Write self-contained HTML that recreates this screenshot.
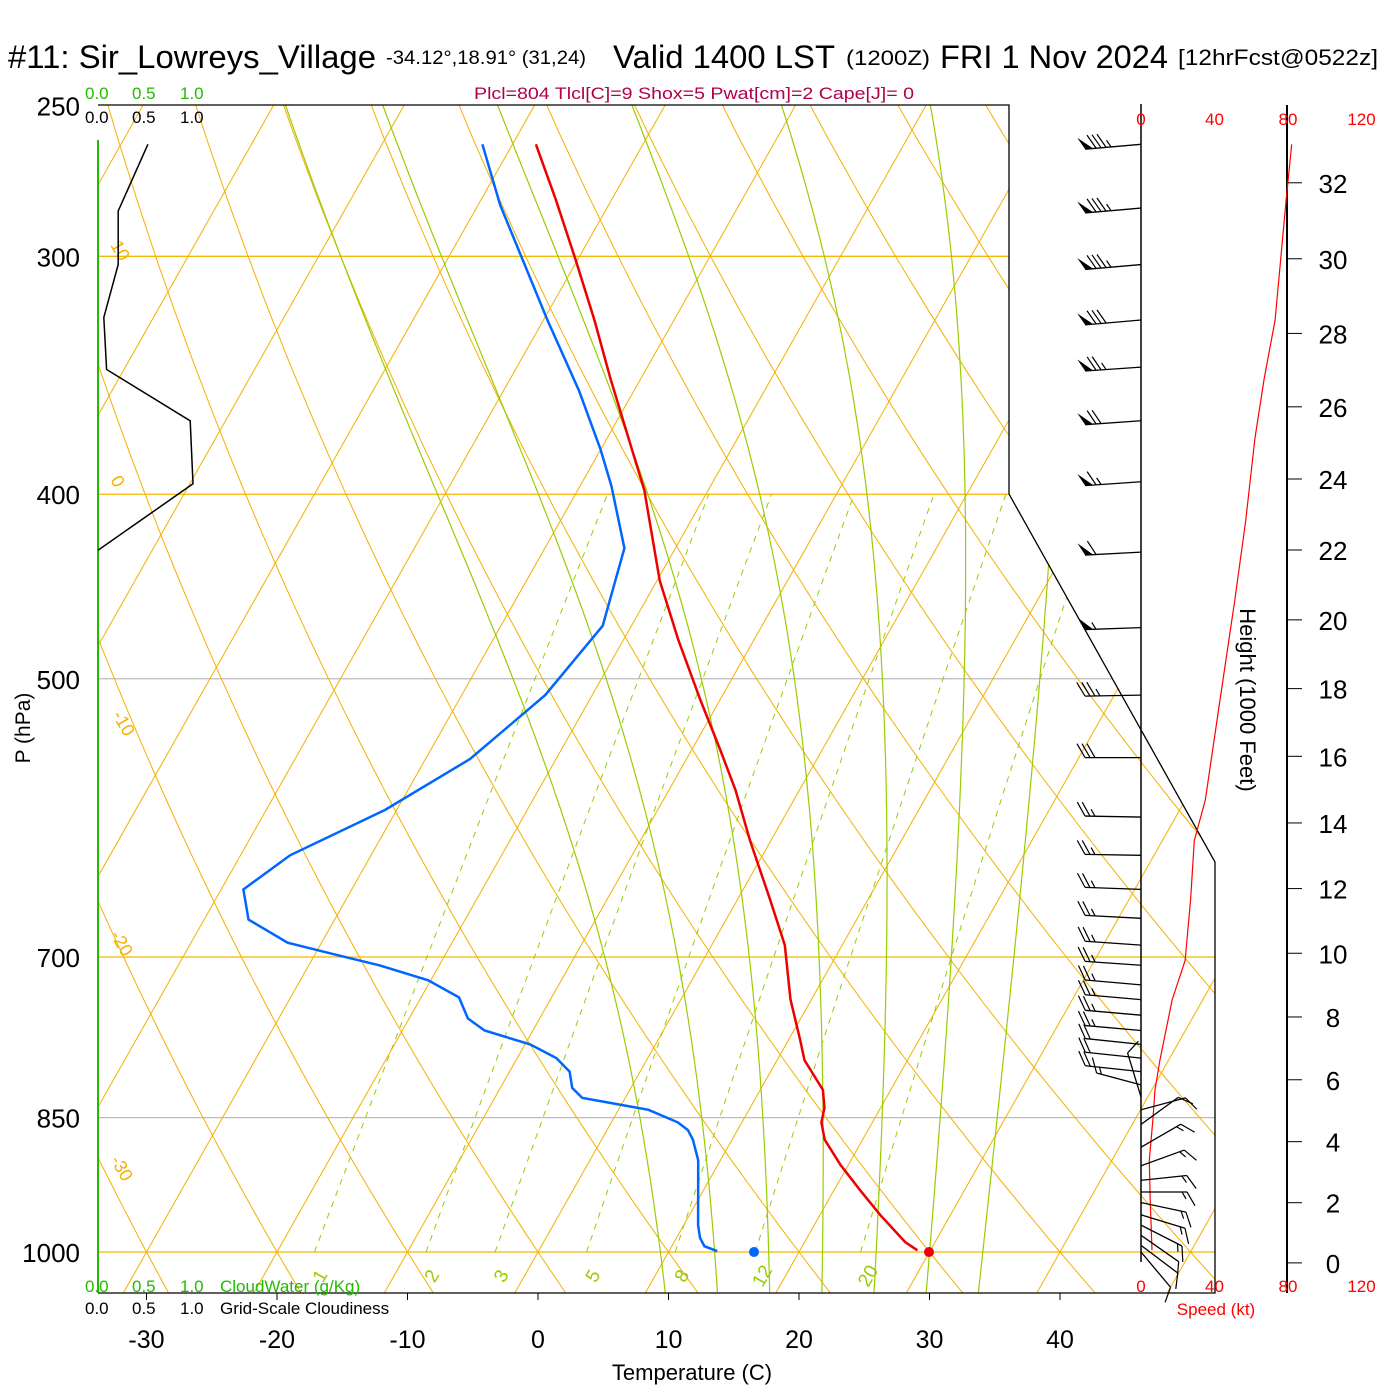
<!DOCTYPE html>
<html><head><meta charset="utf-8"><style>
html,body{margin:0;padding:0;background:#fff;}
svg{display:block;font-family:"Liberation Sans",sans-serif;}
</style></head><body>
<svg id="chart" width="1400" height="1400" viewBox="0 0 1400 1400" xmlns="http://www.w3.org/2000/svg">
<defs><clipPath id="plotClip"><polygon points="98,105 1009,105 1009,494 1215,862 1215,1293 98,1293"/></clipPath></defs>
<g id="title">
<text x="8" y="68" font-size="32" textLength="368" lengthAdjust="spacingAndGlyphs">#11: Sir_Lowreys_Village</text>
<text x="386" y="64" font-size="19" textLength="200" lengthAdjust="spacingAndGlyphs">-34.12°,18.91° (31,24)</text>
<text x="613" y="68" font-size="32" textLength="222" lengthAdjust="spacingAndGlyphs">Valid 1400 LST</text>
<text x="846" y="65" font-size="21" textLength="84" lengthAdjust="spacingAndGlyphs">(1200Z)</text>
<text x="940" y="68" font-size="32" textLength="228" lengthAdjust="spacingAndGlyphs">FRI 1 Nov 2024</text>
<text x="1178" y="65" font-size="22" textLength="200" lengthAdjust="spacingAndGlyphs">[12hrFcst@0522z]</text>
</g>
<text x="694" y="99" font-size="17" fill="#b0004a" text-anchor="middle" textLength="440" lengthAdjust="spacingAndGlyphs">Plcl=804 Tlcl[C]=9 Shox=5 Pwat[cm]=2 Cape[J]= 0</text>
<g id="bg" clip-path="url(#plotClip)"></g>
<g id="fg"></g>
</svg>
<script>
// ---- data ----
const tempP=[998,988,956,928,900,873,855,840,822,793,774,737,690,653,608,572,545,513,477,444,398,348,324,301,280,262];
const tempT=[29.0,27.7,24.6,22.0,19.4,17.1,16.1,15.7,14.8,12.1,10.9,8.4,5.6,2.5,-1.6,-4.9,-7.8,-11.5,-15.8,-19.8,-24.9,-32.3,-36.1,-40.2,-44.3,-48.2];
const dewP=[999,993,983,968,895,873,863,855,842,830,820,804,791,778,765,754,735,720,707,698,688,669,645,619,586,551,510,469,427,396,379,353,324,282,262];
const dewT=[13.7,12.5,11.8,11.1,8.3,7.0,6.2,5.1,2.3,-3.3,-4.5,-5.4,-7.0,-9.6,-13.7,-15.5,-17.1,-20.2,-24.6,-28.4,-32.6,-36.6,-38.3,-36.2,-30.9,-26.6,-23.6,-22.2,-23.9,-27.6,-30.0,-34.2,-39.7,-48.3,-52.3];
const cloudP=[262,284,303,323,344,366,395,428];
const cloudFrac=[0.52,0.21,0.21,0.06,0.09,0.96,0.99,0.0];
const speedP=[998,939,895,852,822,793,737,703,653,608,579,513,455,413,374,348,324,294,280,262];
const speedKt=[6,5,4.5,6.5,7.6,10.3,17,24,27,29,35,43,51,57,62,67,73,77,79,82];
const barbP=[262,283,303,324,343,366,394,429,470,510,550,591,619,645,668,690,707,724,737,751,765,778,791,804,817,829,842,857,881,901,917,930,942,956,968,980,992,1000];
const barbAng=[175,175,175,175,176,176,176,177,178,179,180,181,181,182,183,184,184,185,185,185,185,186,186,186,195,253,345,324,330,340,354,0,12,17,27,35,37,50];
const barbKt=[85,85,85,80,75,70,65,60,55,35,30,25,25,25,25,25,25,25,25,25,25,20,20,20,15,10,10,10,15,15,15,15,15,15,15,10,10,10];
const tempTicks=[-30,-20,-10,0,10,20,30,40];
const pTicks=[250,300,400,500,700,850,1000];
const heightTicks=[0,2,4,6,8,10,12,14,16,18,20,22,24,26,28,30,32];
const speedTicks=[0,40,80,120];
const mixRatios=[1,2,3,5,8,12,20];
const moistStarts=[11.5,15.5,19.5,23.5,27.5,31.5,35.5];
// ---- axes ----
const NS='http://www.w3.org/2000/svg';
function yP(p){return 1252-827*Math.log(1000/p);}
function xT(T,p){return 538+13.05*T+0.566*(1252-yP(p));}
function xSpd(s){return 1141+s*73.5/40;}
function pH(kft){const m=kft*304.8;return 1013.25*Math.pow(1-6.5*m/288150,5.256);}
function el(tag,attrs,parent){const e=document.createElementNS(NS,tag);for(const k in attrs)e.setAttribute(k,attrs[k]);parent.appendChild(e);return e;}
const bg=document.getElementById('bg'),fg=document.getElementById('fg');
function pathD(pts){return pts.map((q,i)=>(i?'L':'M')+q[0].toFixed(1)+','+q[1].toFixed(1)).join('');}
const isoCol={250:'#000',300:'#f5b800',400:'#f5b800',500:'#bbb',700:'#f5b800',850:'#bbb',1000:'#f5b800'};
pTicks.forEach(p=>{if(p===250)return;const y=yP(p);
 const l=el('line',{x1:98,x2:1215,y1:y,y2:y,stroke:isoCol[p],'stroke-width':1.3},bg);
 
 });
for(let T=-110;T<=50;T+=10){const l=el('line',{x1:xT(T,1060),y1:yP(1060),x2:xT(T,245),y2:yP(245),stroke:'#f5b000','stroke-width':1},bg);
 
 }
for(let th=-60;th<=200;th+=10){const pts=[];for(let p=1060;p>=240;p-=20){const T=(th+273.15)*Math.pow(p/1000,0.286)-273.15;pts.push([xT(T,p),yP(p)]);}
 const l=el('path',{d:pathD(pts),fill:'none',stroke:'#f5b000','stroke-width':1},bg);
 
 }
function es(T){return 6.112*Math.exp(17.67*T/(T+243.5));}
moistStarts.forEach(T0=>{let T=T0,pts=[];for(let p=1050;p>=245;p-=5){pts.push([xT(T,p),yP(p)]);const Tk=T+273.15,e=es(T),rs=0.622*e/(p-e);
 const d=(287*Tk+2.5e6*rs)/(p*(1004+2.5e6*2.5e6*rs*0.622/(287*Tk*Tk)));T-=d*5;}
 const l=el('path',{d:pathD(pts),fill:'none',stroke:'#99cc00','stroke-width':1.2},bg);
 
 });
function tdW(w,p){const e=w*p/(622+w),L=Math.log(e/6.112);return 243.5*L/(17.67-L);}
mixRatios.forEach(w=>{const pts=[];for(let p=1000;p>=400;p-=20)pts.push([xT(tdW(w,p),p),yP(p)]);
 const l=el('path',{d:pathD(pts),fill:'none',stroke:'#99cc00','stroke-width':1,'stroke-dasharray':'6,6'},bg);
 
 
 const x=xT(tdW(w,1030),1030)+15,t=el('text',{x:x,y:1282,'font-size':19,fill:'#99cc00',transform:`rotate(-60 ${x} 1276)`,'text-anchor':'middle'},bg);t.textContent=w;
 
 });
[[110,245,'10'],[110,480,'0'],[112,715,'-10'],[110,935,'-20'],[110,1160,'-30']].forEach(a=>{const t=el('text',{x:a[0],y:a[1],'font-size':18,fill:'#f5b000',transform:`rotate(60 ${a[0]} ${a[1]})`},bg);t.textContent=a[2];
 
 });
[[1025,348,'0'],[1050,545,'10'],[1118,670,'20'],[1185,790,'30']].forEach(a=>{const t=el('text',{x:a[0],y:a[1],'font-size':24,fill:'#f5b000',transform:`rotate(-60 ${a[0]} ${a[1]})`},bg);t.textContent=a[2];
 
 });
const fr=el('polyline',{points:'98,105 1009,105 1009,494 1215,862 1215,1293 98,1293',fill:'none',stroke:'#000','stroke-width':1.3},fg);


const gl=el('line',{x1:98,y1:140,x2:98,y2:1293,stroke:'#22bb00','stroke-width':2},fg);


tempTicks.forEach(T=>{const x=538+13.05*T;el('line',{x1:x,x2:x,y1:1293,y2:1300,stroke:'#000'},fg);
 const t=el('text',{x:x,y:1348,'font-size':25,'text-anchor':'middle'},fg);t.textContent=T;
 
 });
pTicks.forEach(p=>{const t=el('text',{x:80,y:yP(p)+10,'font-size':26,'text-anchor':'end'},fg);t.textContent=p;
 
 });
function txt(x,y,s,str,name,extra){const t=el('text',Object.assign({x:x,y:y,'font-size':s},extra||{}),fg);t.textContent=str;
 
 return t;}
txt(692,1380,22,'Temperature (C)','x-axis-title',{'text-anchor':'middle'});
txt(30,728,21,'P (hPa)','y-axis-title',{'text-anchor':'middle',transform:'rotate(-90 30 728)'});
txt(1240,700,22,'Height (1000 Feet)','height-axis-title',{'text-anchor':'middle',transform:'rotate(90 1240 700)'});
txt(1216,1315,17,'Speed (kt)','speed-axis-title',{'text-anchor':'middle',fill:'#f00'});
[[85,'0.0'],[132,'0.5'],[180,'1.0']].forEach(a=>{
 txt(a[0],99,17,a[1],'cloud-water-scale-top',{fill:'#22bb00'});
 txt(a[0],123,17,a[1],'cloudiness-scale-top',{});
 txt(a[0],1292,17,a[1],'cloud-water-scale-bottom',{fill:'#22bb00'});
 txt(a[0],1314,17,a[1],'cloudiness-scale-bottom',{});});
txt(220,1292,17,'CloudWater (g/Kg)','cloud-water-legend',{fill:'#22bb00'});
txt(220,1314,17,'Grid-Scale Cloudiness','cloudiness-legend',{});
const wl=el('line',{x1:1141,y1:104,x2:1141,y2:1262,stroke:'#000','stroke-width':1.5},fg);


const hl=el('line',{x1:1287,y1:105,x2:1287,y2:1293,stroke:'#000','stroke-width':2},fg);


heightTicks.forEach(h=>{const y=yP(pH(h));el('line',{x1:1287,x2:1302,y1:y,y2:y,stroke:'#000'},fg);
 txt(1333,y+10,26,h,'height-tick-label',{'text-anchor':'middle'});});
speedTicks.forEach(s=>{const x=xSpd(s);txt(x,125,17,s,'speed-tick-top',{'text-anchor':'middle',fill:'#f00'});
 txt(x,1292,17,s,'speed-tick-bottom',{'text-anchor':'middle',fill:'#f00'});});
const sp=el('path',{d:pathD(speedP.map((p,i)=>[xSpd(speedKt[i]),yP(p)])),fill:'none',stroke:'#f00','stroke-width':1.2},fg);


barbP.forEach((p,i)=>{const y=yP(p),a=barbAng[i]*Math.PI/180,L=(barbKt[i]<=15?46:56),x0=1141,ux=Math.cos(a),uy=Math.sin(a);
 const g=el('g',{},fg);
 
 
 const tx=x0+L*ux,ty=y+L*uy;el('line',{x1:x0,y1:y,x2:tx,y2:ty,stroke:'#000','stroke-width':1.3},g);
 const fa=a+Math.PI/3,fx=Math.cos(fa),fy=Math.sin(fa);let s=barbKt[i],pos=L;
 while(s>=50){const bx=x0+pos*ux,by=y+pos*uy,cx=x0+(pos-8)*ux,cy=y+(pos-8)*uy;
  el('polygon',{points:`${bx},${by} ${bx+14*fx},${by+14*fy} ${cx},${cy}`,fill:'#000'},g);pos-=11;s-=50;}
 while(s>=10){const bx=x0+pos*ux,by=y+pos*uy;el('line',{x1:bx,y1:by,x2:bx+16*fx,y2:by+16*fy,stroke:'#000','stroke-width':1.2},g);pos-=5;s-=10;}
 if(s>=5){const bx=x0+pos*ux,by=y+pos*uy;el('line',{x1:bx,y1:by,x2:bx+8*fx,y2:by+8*fy,stroke:'#000','stroke-width':1.2},g);}
});
const cl=el('path',{d:pathD(cloudP.map((p,i)=>[98+cloudFrac[i]*96,yP(p)])),fill:'none',stroke:'#000','stroke-width':1.5},fg);


const dl=el('path',{d:pathD(dewP.map((p,i)=>[xT(dewT[i],p),yP(p)])),fill:'none',stroke:'#0066ff','stroke-width':2.5},fg);


const tl=el('path',{d:pathD(tempP.map((p,i)=>[xT(tempT[i],p),yP(p)])),fill:'none',stroke:'#ee0000','stroke-width':2.5},fg);


const d1=el('circle',{cx:754,cy:1252,r:5,fill:'#0066ff'},fg);


const d2=el('circle',{cx:929,cy:1252,r:5,fill:'#ee0000'},fg);


</script>
</body></html>
